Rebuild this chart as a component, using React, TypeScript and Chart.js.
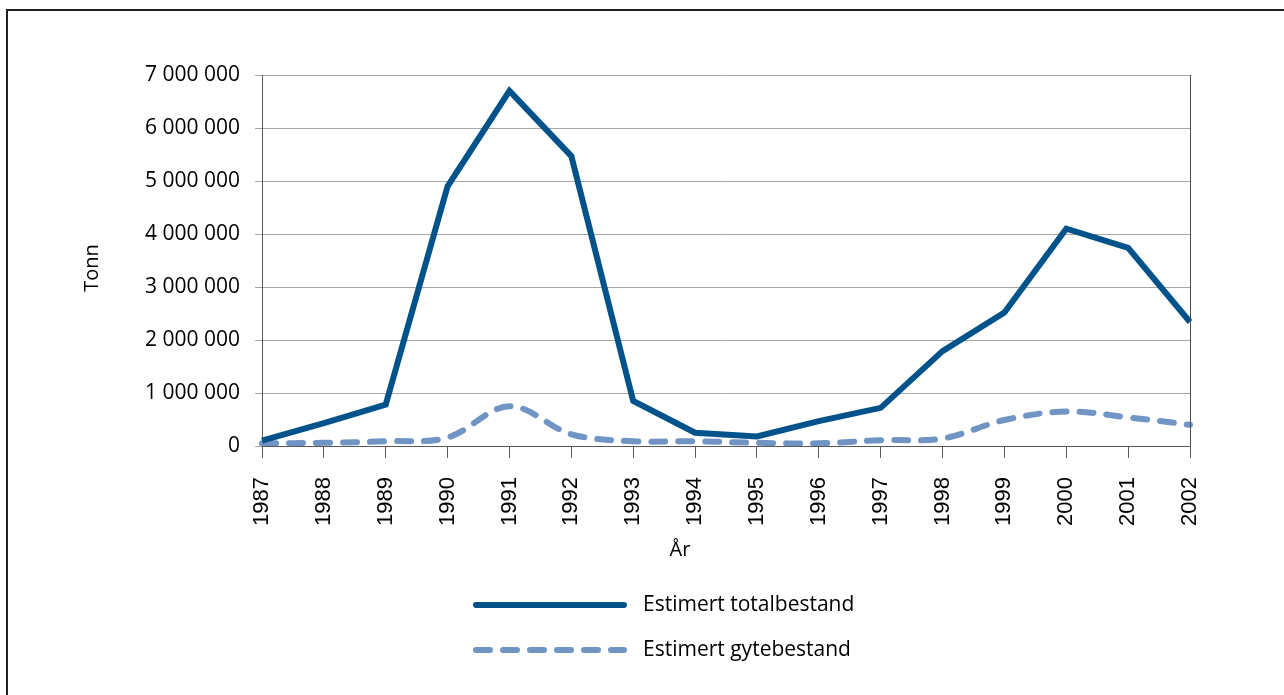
import React, { useEffect, useRef } from 'react';
import { Chart, registerables } from 'chart.js';

Chart.register(...registerables);

const years = ['1987', '1988', '1989', '1990', '1991', '1992', '1993', '1994', '1995', '1996', '1997', '1998', '1999', '2000', '2001', '2002'];
const totalbestand = [100000, 430000, 780000, 4900000, 6700000, 5470000, 850000, 250000, 180000, 470000, 720000, 1790000, 2520000, 4100000, 3740000, 2340000];
const gytebestand = [50000, 60000, 90000, 160000, 750000, 220000, 90000, 90000, 60000, 50000, 110000, 140000, 490000, 650000, 540000, 400000];
const seriesNames = ['Estimert totalbestand', 'Estimert gytebestand'];
const yMin = 0;
const yMax = 7000000;
const yStep = 1000000;
const yTitle = 'Tonn';
const xTitle = 'År';

const fmt = (v: number) => String(Math.round(v)).replace(/\B(?=(\d{3})+(?!\d))/g, ' ');

const TEXT_FONT = "'Open Sans', 'Noto Sans', sans-serif";

const legendPlugin = {
  id: 'verticalLegend',
  afterDraw(chart: any) {
    const ctx = chart.ctx as CanvasRenderingContext2D;
    chart.data.datasets.forEach((ds: any, i: number) => {
      const y = 594 + i * 45;
      ctx.save();
      ctx.strokeStyle = ds.borderColor;
      ctx.lineWidth = ds.borderWidth;
      ctx.lineCap = 'round';
      ctx.setLineDash(ds.borderDash || []);
      ctx.beginPath();
      ctx.moveTo(468, y);
      ctx.lineTo(616, y);
      ctx.stroke();
      ctx.setLineDash([]);
      ctx.fillStyle = '#000';
      ctx.font = `21px ${TEXT_FONT}`;
      ctx.textAlign = 'left';
      ctx.textBaseline = 'middle';
      ctx.fillText(ds.label, 635, y);
      ctx.restore();
    });
  },
};

const axisTitlePlugin = {
  id: 'axisTitles',
  afterDraw(chart: any) {
    const ctx = chart.ctx as CanvasRenderingContext2D;
    ctx.save();
    ctx.fillStyle = '#000';
    ctx.font = `20px ${TEXT_FONT}`;
    ctx.textAlign = 'center';
    ctx.textBaseline = 'middle';
    ctx.fillText(xTitle, 672, 539);
    ctx.translate(84, 257);
    ctx.rotate(-Math.PI / 2);
    ctx.fillText(yTitle, 0, 0);
    ctx.restore();
  },
};

const frameRightPlugin = {
  id: 'frameRight',
  afterDatasetsDraw(chart: any) {
    const { ctx, chartArea } = chart;
    ctx.save();
    ctx.strokeStyle = '#4d4d4d';
    ctx.lineWidth = 1;
    ctx.beginPath();
    ctx.moveTo(Math.round(chartArea.right) + 0.5, chartArea.top);
    ctx.lineTo(Math.round(chartArea.right) + 0.5, chartArea.bottom);
    ctx.stroke();
    ctx.restore();
  },
};

export default function App() {
  const ref = useRef<HTMLCanvasElement | null>(null);

  useEffect(() => {
    if (!ref.current) return;
    const chart = new Chart(ref.current, {
      type: 'line',
      data: {
        labels: years,
        datasets: [
          {
            label: seriesNames[0],
            data: totalbestand,
            borderColor: '#00528A',
            backgroundColor: '#00528A',
            borderWidth: 6,
            pointRadius: 0,
            tension: 0,
            fill: false,
          },
          {
            label: seriesNames[1],
            data: gytebestand,
            borderColor: '#7094C4',
            backgroundColor: '#7094C4',
            borderWidth: 6,
            borderDash: [14, 13],
            borderCapStyle: 'round',
            pointRadius: 0,
            tension: 0.35,
            fill: false,
          },
        ],
      },
      options: {
        responsive: false,
        animation: false,
        layout: { padding: { left: 0, top: 64, right: 94, bottom: 119 } },
        plugins: {
          legend: { display: false },
          tooltip: { enabled: false },
        },
        scales: {
          x: {
            type: 'category',
            offset: false,
            afterFit: (s: any) => { s.height = 130; },
            grid: { drawOnChartArea: false, drawTicks: true, tickLength: 12, color: '#595959' },
            border: { color: '#595959', width: 1 },
            ticks: {
              autoSkip: false,
              minRotation: 90,
              maxRotation: 90,
              padding: 19,
              color: '#000',
              font: { family: "'Liberation Sans Narrow', 'Liberation Sans', Arial, sans-serif", size: 22 },
            },
            title: { display: false, text: xTitle },
          },
          y: {
            min: yMin,
            max: yMax,
            afterFit: (s: any) => { s.width = 254; },
            grid: { color: '#a6a6a6', tickLength: 7, drawTicks: true },
            border: { color: '#595959', width: 1 },
            ticks: {
              stepSize: yStep,
              padding: 15,
              color: '#000',
              font: { family: TEXT_FONT, size: 21 },
              callback: (v: any) => fmt(Number(v)),
            },
            title: { display: false, text: yTitle },
          },
        },
      } as any,
      plugins: [legendPlugin, axisTitlePlugin, frameRightPlugin],
    });
    return () => chart.destroy();
  }, []);

  return (
    <div
      style={{
        position: 'absolute',
        left: 6,
        top: 9,
        width: 1278,
        height: 690,
        borderLeft: '2px solid #231f20',
        borderTop: '2px solid #231f20',
        overflow: 'hidden',
        background: '#fff',
      }}
    >
      <canvas ref={ref} width={1276} height={684} style={{ display: 'block', width: 1276, height: 684 }} />
    </div>
  );
}
